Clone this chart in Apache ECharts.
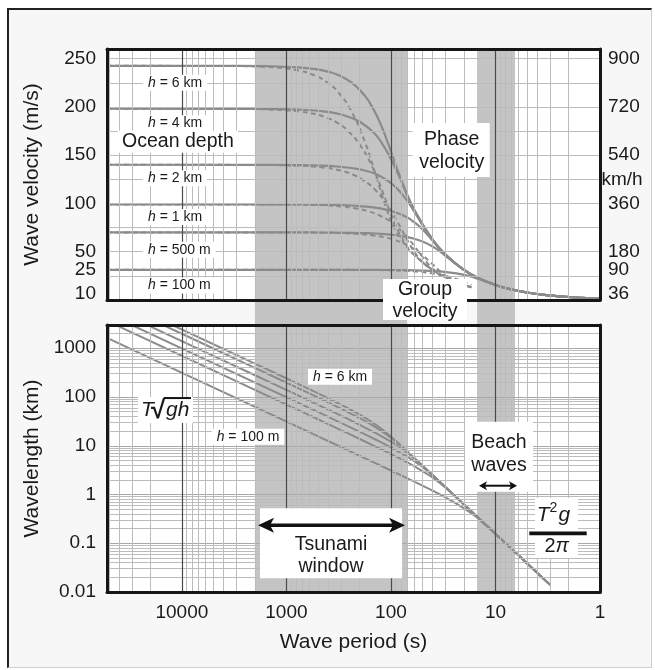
<!DOCTYPE html>
<html><head><meta charset="utf-8">
<script src="https://cdn.jsdelivr.net/npm/echarts@6/dist/echarts.min.js"></script>
<style>
html,body{margin:0;padding:0;background:#fff;}
#frame{position:absolute;left:7px;top:8px;width:645px;height:660px;box-sizing:border-box;background:#f7f7f7;border-left:2px solid #222;border-top:2px solid #222;border-right:1px solid #cfcfcf;border-bottom:1px solid #cfcfcf;}
#chart{position:absolute;left:0;top:0;width:655px;height:670px;}
</style></head><body>
<div id="frame"></div><div id="chart"></div>
<script>
// ---------- DATA ----------
const depthNames = ['6 km', '4 km', '2 km', '1 km', '500 m', '100 m'];

// Phase velocity (m/s) vs wave period (s)
const phase6 = [[52000,242.6],[3109,242.5],[1557,242.2],[782,241.0],[526,239.1],[399,236.5],[323,233.2],[239,225.4],[178,211.7],[147,197.5],[123,180.0],[106,161.6],[89.9,139.7],[73.3,114.4],[60,93.7],[40,62.5],[30,46.8],[20,31.2],[15,23.4],[10,15.6],[7,10.9],[5,7.8],[3,4.7],[2,3.1],[1.5,2.3],[1,1.6]];
const phase4 = [[52000,198.1],[2539,198.0],[1271,197.8],[639,196.8],[429,195.2],[325,193.1],[264,190.4],[195,184.1],[145,172.9],[120,161.3],[101,146.9],[86.6,131.9],[73.4,114.1],[59.8,93.4],[40,62.5],[30,46.8],[20,31.2],[15,23.4],[10,15.6],[7,10.9],[5,7.8],[3,4.7],[2,3.1],[1.5,2.3],[1,1.6]];
const phase2 = [[52000,140.1],[1795,140.0],[899,139.8],[452,139.2],[304,138.0],[230,136.5],[187,134.7],[138,130.2],[103,122.2],[84.8,114.0],[71.1,103.9],[61.2,93.3],[51.9,80.7],[42.3,66.0],[30,46.8],[20,31.2],[15,23.4],[10,15.6],[7,10.9],[5,7.8],[3,4.7],[2,3.1],[1.5,2.3],[1,1.6]];
const phase1 = [[52000,99.05],[1269,99.0],[636,98.9],[319,98.4],[215,97.6],[163,96.5],[132,95.2],[97.5,92.0],[72.7,86.4],[59.9,80.6],[50.3,73.5],[43.3,66.0],[36.7,57.0],[29.9,46.7],[20,31.2],[15,23.4],[10,15.6],[7,10.9],[5,7.8],[3,4.7],[2,3.1],[1.5,2.3],[1,1.6]];
const phase500 = [[52000,70.0],[898,70.0],[449,69.9],[226,69.6],[152,69.0],[115,68.3],[93.3,67.3],[69.0,65.1],[51.4,61.1],[42.4,57.0],[35.6,52.0],[30.6,46.6],[26.0,40.3],[21.1,33.0],[15,23.4],[10,15.6],[7,10.9],[5,7.8],[3,4.7],[2,3.1],[1.5,2.3],[1,1.6]];
const phase100 = [[52000,31.3],[401,31.3],[201,31.3],[101,31.1],[67.9,30.9],[51.5,30.5],[41.7,30.1],[30.8,29.1],[23.0,27.3],[18.95,25.5],[15.9,23.2],[13.7,20.9],[11.6,18.0],[9.46,14.8],[7,10.9],[5,7.8],[3,4.7],[2,3.1],[1.5,2.3],[1,1.6]];

// Group velocity (m/s) vs wave period (s)
const group6 = [[52000,242.6],[3109,242.3],[1557,241.4],[782,237.9],[526,232.2],[399,224.7],[323,215.9],[239,195.6],[178,164.2],[147,137.1],[123,110.4],[106,89.5],[89.9,71.9],[73.3,57.3],[60,46.8],[40,31.2],[30,23.4],[20,15.6],[17,13.3]];
const group4 = [[52000,198.1],[2539,197.8],[1271,197.1],[639,194.2],[429,189.6],[325,183.5],[264,176.2],[195,159.7],[145,134.1],[120,112.0],[101,90.2],[86.6,73.1],[73.4,58.7],[59.8,46.8],[40,31.2],[30,23.4],[20,15.6],[17,13.3]];
const group2 = [[52000,140.1],[1795,139.9],[899,139.4],[452,137.3],[304,134.1],[230,129.7],[187,124.6],[138,112.9],[103,94.8],[84.8,79.2],[71.1,63.8],[61.2,51.7],[51.9,41.5],[42.3,33.1],[30,23.4],[20,15.6],[17,13.3]];
const group1 = [[52000,99.05],[1269,98.9],[636,98.6],[319,97.1],[215,94.8],[163,91.7],[132,88.1],[97.5,79.9],[72.7,67.1],[59.9,56.0],[50.3,45.1],[43.3,36.5],[36.7,29.4],[29.9,23.4],[20,15.6],[17,13.3]];
const group500 = [[52000,70.0],[898,69.95],[449,69.7],[226,68.7],[152,67.0],[115,64.9],[93.3,62.3],[69.0,56.5],[51.4,47.4],[42.4,39.6],[35.6,31.9],[30.6,25.8],[26.0,20.8],[21.1,16.5],[17,13.3]];
const group100 = [[52000,31.3],[401,31.28],[201,31.16],[101,30.71],[67.9,29.97],[51.5,29.01],[41.7,27.87],[30.8,25.25],[23.0,21.2],[18.95,17.7],[17,15.6]];

// Wavelength (km) vs wave period (s)
const wave6 = [[52000,12616],[3109,754],[1557,377],[782,188.5],[526,125.7],[399,94.2],[323,75.4],[239,53.9],[178,37.7],[147,29.0],[123,22.2],[106,17.1],[89.9,12.6],[73.3,8.38],[60,5.62],[40,2.50],[30,1.405],[20,0.625],[15,0.351],[10,0.156],[7,0.0765],[5,0.039],[3,0.014]];
const wave4 = [[52000,10301],[2539,503],[1271,251],[639,125.7],[429,83.8],[325,62.8],[264,50.3],[195,35.9],[145,25.1],[120,19.3],[101,14.8],[86.6,11.4],[73.4,8.38],[59.8,5.58],[40,2.50],[30,1.405],[20,0.625],[15,0.351],[10,0.156],[7,0.0765],[5,0.039],[3,0.014]];
const wave2 = [[52000,7284],[1795,251],[899,125.7],[452,62.8],[304,41.9],[230,31.4],[187,25.1],[138,17.95],[103,12.57],[84.8,9.67],[71.1,7.39],[61.2,5.71],[51.9,4.19],[42.3,2.79],[30,1.405],[20,0.625],[15,0.351],[10,0.156],[7,0.0765],[5,0.039],[3,0.014]];
const wave1 = [[52000,5151],[1269,125.7],[636,62.8],[319,31.4],[215,20.9],[163,15.7],[132,12.6],[97.5,8.98],[72.7,6.28],[59.9,4.83],[50.3,3.70],[43.3,2.86],[36.7,2.09],[29.9,1.40],[20,0.625],[15,0.351],[10,0.156],[7,0.0765],[5,0.039],[3,0.014]];
const wave500 = [[52000,3642],[898,62.8],[449,31.4],[226,15.7],[152,10.47],[115,7.85],[93.3,6.28],[69.0,4.49],[51.4,3.14],[42.4,2.42],[35.6,1.85],[30.6,1.43],[26.0,1.05],[21.1,0.698],[15,0.351],[10,0.156],[7,0.0765],[5,0.039],[3,0.014]];
const wave100 = [[52000,1629],[401,12.57],[201,6.28],[101,3.14],[67.9,2.09],[51.5,1.571],[41.7,1.257],[30.8,0.898],[23.0,0.628],[18.95,0.483],[15.9,0.370],[13.7,0.286],[11.6,0.209],[9.46,0.140],[7,0.0765],[5,0.039],[3,0.014]];

// Tick labels
const velTickValues = [10, 25, 50, 100, 150, 200, 250];
const kmhTickValues = [36, 90, 180, 360, 540, 720, 900];
// Shaded period bands (s)
const tsunamiBand = [2000, 70];
const beachBand = [15, 6.5];

// ---------- CHART ----------
const FONT = '"Liberation Sans", Arial, Helvetica, sans-serif';
const INK = '#1a1a1a';
const CURVE = '#8b8b8b';
const phaseSeries = [phase6, phase4, phase2, phase1, phase500, phase100];
const groupSeries = [group6, group4, group2, group1, group500, group100];
const waveSeries = [wave6, wave4, wave2, wave1, wave500, wave100];

function isPow10(v) { const l = Math.log10(v); return Math.abs(l - Math.round(l)) < 1e-6; }

const periodMajor = [10, 100, 1000, 10000];
const periodMinor = [];
[1, 10, 100, 1000, 10000].forEach(d => { for (let k = 2; k <= 9; k++) { const v = k * d; if (v < 52000) periodMinor.push(v); } });
const velGrid = []; for (let v = 25; v <= 250; v += 25) velGrid.push(v);
const lenMajor = [0.1, 1, 10, 100, 1000];
const lenMinor = [];
[0.01, 0.1, 1, 10, 100, 1000].forEach(d => { for (let k = 2; k <= 9; k++) { const v = +(k * d).toPrecision(3); if (v < 3000) lenMinor.push(v); } });

const minorStyle = { color: '#bcbcbc', width: 1, type: 'solid' };
const majorStyle = { color: '#4a4a4a', width: 1.2, type: 'solid' };
const hMajorStyle = { color: '#a8a8a8', width: 1.2, type: 'solid' };

const axisLine = { show: true, onZero: false, lineStyle: { color: '#161616', width: 3 } };
function periodAxis(grid, pos, labels, show) {
  return {
    type: 'log', logBase: 10, gridIndex: grid, position: pos, inverse: true, min: 1, max: 52000,
    show: show !== false, z: 20,
    axisLine: axisLine, axisTick: { show: false }, splitLine: { show: false },
    minorTick: { show: false }, minorSplitLine: { show: false },
    axisLabel: labels ? { show: true, fontSize: 19, fontFamily: FONT, color: INK, margin: 11,
      formatter: v => isPow10(v) ? String(v) : '' } : { show: false },
    name: labels ? 'Wave period (s)' : '', nameLocation: 'middle', nameGap: 40,
    nameTextStyle: { fontSize: 21, fontFamily: FONT, color: INK }
  };
}
// the two lowest velocity labels sit slightly apart in the original, as printed
const labelRich = {
  u: { fontSize: 19, fontFamily: FONT, color: INK, padding: [0, 0, 12, 0] },
  d: { fontSize: 19, fontFamily: FONT, color: INK, padding: [6, 0, 0, 0] }
};
function velLabel(lowVals) {
  return v => v === lowVals[1] ? '{u|' + v + '}' : (v === lowVals[0] ? '{d|' + v + '}' : String(v));
}

const series = [];
// shaded bands spanning both panels
series.push({
  type: 'line', xAxisIndex: 4, yAxisIndex: 4, data: [[1, 0]], symbol: 'none', lineStyle: { width: 0 },
  silent: true, z: 1,
  markArea: { silent: true, itemStyle: { color: '#c4c4c4' },
    data: [[{ xAxis: tsunamiBand[0] }, { xAxis: tsunamiBand[1] }], [{ xAxis: beachBand[0] }, { xAxis: beachBand[1] }]] }
});
// grid lines top panel
series.push({
  type: 'line', xAxisIndex: 0, yAxisIndex: 0, data: [[1, 0]], symbol: 'none', lineStyle: { width: 0 }, silent: true, z: 2,
  markLine: { silent: true, symbol: ['none', 'none'], label: { show: false }, animation: false,
    data: [].concat(
      velGrid.map(v => ({ yAxis: v, lineStyle: minorStyle })),
      periodMinor.map(v => ({ xAxis: v, lineStyle: minorStyle })),
      periodMajor.map(v => ({ xAxis: v, lineStyle: majorStyle })))
  }
});
// grid lines bottom panel
series.push({
  type: 'line', xAxisIndex: 2, yAxisIndex: 2, data: [[1, 1]], symbol: 'none', lineStyle: { width: 0 }, silent: true, z: 2,
  markLine: { silent: true, symbol: ['none', 'none'], label: { show: false }, animation: false,
    data: [].concat(
      lenMinor.map(v => ({ yAxis: v, lineStyle: minorStyle })),
      lenMajor.map(v => ({ yAxis: v, lineStyle: hMajorStyle })),
      periodMinor.map(v => ({ xAxis: v, lineStyle: minorStyle })),
      periodMajor.map(v => ({ xAxis: v, lineStyle: majorStyle })))
  }
});
depthNames.forEach((n, i) => {
  series.push({ name: 'Phase ' + n, type: 'line', xAxisIndex: 0, yAxisIndex: 0, data: phaseSeries[i], smooth: 0.5,
    symbol: 'none', silent: true, z: 3, lineStyle: { color: CURVE, width: 2.2 } });
  series.push({ name: 'Group ' + n, type: 'line', xAxisIndex: 0, yAxisIndex: 0, data: groupSeries[i], smooth: 0.5,
    symbol: 'none', silent: true, z: 3, lineStyle: { color: CURVE, width: 2, type: [5, 3.5] } });
  series.push({ name: 'Wavelength ' + n, type: 'line', xAxisIndex: 2, yAxisIndex: 2, data: waveSeries[i], smooth: 0.4,
    symbol: 'none', silent: true, z: 3, lineStyle: { color: CURVE, width: 2 } });
});

const option = {
  animation: false,
  backgroundColor: 'transparent',
  textStyle: { fontFamily: FONT },
  grid: [
    { left: 107, top: 49, width: 493, height: 251, show: true, backgroundColor: '#fff', borderWidth: 0 },
    { left: 107, top: 325, width: 493, height: 267, show: true, backgroundColor: '#fff', borderWidth: 0 },
    { left: 107, top: 49, width: 493, height: 543, show: false }
  ],
  xAxis: [
    periodAxis(0, 'bottom', false),
    periodAxis(0, 'top', false),
    periodAxis(1, 'bottom', true),
    periodAxis(1, 'top', false),
    periodAxis(2, 'bottom', false, false)
  ],
  yAxis: [
    { type: 'value', gridIndex: 0, position: 'left', min: 0, max: 260, z: 20, axisLine: axisLine,
      axisTick: { show: false }, splitLine: { show: false },
      axisLabel: { customValues: velTickValues, hideOverlap: false, fontSize: 19, fontFamily: FONT, color: INK, margin: 11,
        formatter: velLabel(velTickValues), rich: labelRich },
      name: 'Wave velocity (m/s)', nameLocation: 'middle', nameGap: 64,
      nameTextStyle: { fontSize: 21, fontFamily: FONT, color: INK } },
    { type: 'value', gridIndex: 0, position: 'right', min: 0, max: 936, z: 20, axisLine: axisLine,
      axisTick: { show: false }, splitLine: { show: false },
      axisLabel: { customValues: kmhTickValues, hideOverlap: false, fontSize: 19, fontFamily: FONT, color: INK, margin: 8,
        formatter: velLabel(kmhTickValues), rich: labelRich } },
    { type: 'log', logBase: 10, gridIndex: 1, position: 'left', min: 0.01, max: 3000, z: 20, axisLine: axisLine,
      axisTick: { show: false }, splitLine: { show: false }, minorTick: { show: false }, minorSplitLine: { show: false },
      axisLabel: { fontSize: 19, fontFamily: FONT, color: INK, margin: 11,
        formatter: v => (isPow10(v) && v <= 1000) ? String(v) : '' },
      name: 'Wavelength (km)', nameLocation: 'middle', nameGap: 64,
      nameTextStyle: { fontSize: 21, fontFamily: FONT, color: INK } },
    { type: 'log', logBase: 10, gridIndex: 1, position: 'right', min: 0.01, max: 3000, z: 20, axisLine: axisLine,
      axisTick: { show: false }, splitLine: { show: false }, axisLabel: { show: false } },
    { type: 'value', gridIndex: 2, min: 0, max: 1, show: false }
  ],
  series: series
};

const chart = echarts.init(document.getElementById('chart'), null, { renderer: 'canvas' });
chart.setOption(option);

// ---------- ANNOTATIONS (anchored to data coordinates) ----------
const pTop = (t, v) => chart.convertToPixel({ xAxisIndex: 0, yAxisIndex: 0 }, [t, v]);
const pBot = (t, v) => chart.convertToPixel({ xAxisIndex: 2, yAxisIndex: 2 }, [t, v]);

function Tx(x, y, text, size, extra) {
  return { type: 'text', x: x, y: y, z: 100,
    style: Object.assign({ text: text, fontSize: size, fontFamily: FONT, fill: INK, align: 'center', verticalAlign: 'middle' }, extra || {}) };
}
function Rc(x, y, w, h, fill) {
  return { type: 'rect', z: 99, shape: { x: x, y: y, width: w, height: h }, style: { fill: fill || '#fff' } };
}
function Grp(p, children) { return { type: 'group', x: p[0], y: p[1], z: 100, children: children }; }
function arrow(x1, x2, y, lw, hl, hw, notch) {
  return [
    { type: 'line', z: 101, shape: { x1: x1 + hl * 0.6, y1: y, x2: x2 - hl * 0.6, y2: y }, style: { stroke: '#111', lineWidth: lw } },
    { type: 'polygon', z: 101, shape: { points: [[x1, y], [x1 + hl, y - hw / 2], [x1 + hl * notch, y], [x1 + hl, y + hw / 2]] }, style: { fill: '#111' } },
    { type: 'polygon', z: 101, shape: { points: [[x2, y], [x2 - hl, y - hw / 2], [x2 - hl * notch, y], [x2 - hl, y + hw / 2]] }, style: { fill: '#111' } }
  ];
}
const hRich = { i: { fontStyle: 'italic', fontSize: 14, fontFamily: FONT, fill: INK } };
function hLabel(p, name, align) {
  return Tx(p[0], p[1], '{i|h} = ' + name, 14, { align: align, backgroundColor: '#fff', padding: [1, 5], rich: hRich });
}

const topLabelVel = [225, 183, 126, 86, 52, 15];
const g = [];
depthNames.forEach((n, i) => g.push(hLabel(pTop(23500, topLabelVel[i]), n, 'left')));
g.push(Grp(pTop(10900, 164), [Rc(-60, -11, 120, 22), Tx(0, 0, 'Ocean depth', 19.5)]));
g.push(Grp(pTop(26.2, 155.4), [Rc(-39, -27, 77, 54), Tx(0, -10, 'Phase', 19.5), Tx(0, 13, 'velocity', 19.5)]));
g.push(Grp(pTop(47.2, -1), [Rc(-42, -22, 84, 41), Tx(0, -11, 'Group', 19.5), Tx(0, 11, 'velocity', 19.5)]));
const kmh = pTop(0.616, 124.3);
g.push(Tx(kmh[0], kmh[1], 'km/h', 19));

g.push(hLabel(pBot(307, 261), depthNames[0], 'center'));
g.push(hLabel(pBot(2330, 15.3), depthNames[5], 'center'));
g.push(Grp(pBot(14500, 54), [
  Rc(-27, -13, 55, 26),
  Tx(-24, 0, 'T', 21, { align: 'left', fontStyle: 'italic' }),
  Tx(-14, 1, '\u221A', 26, { align: 'left', fontWeight: 'bold' }),
  Tx(1, 0, 'gh', 21, { align: 'left', fontStyle: 'italic' }),
  { type: 'line', z: 101, shape: { x1: -1, y1: -12, x2: 26, y2: -12 }, style: { stroke: '#111', lineWidth: 2 } }
]));
g.push(Grp(pBot(374, 0.1), [Rc(-71, -35, 142, 70)].concat(arrow(-73, 74, -18, 3.5, 16, 15, 0.75),
  [Tx(0, 1, 'Tsunami', 19.5), Tx(0, 23.7, 'window', 19.5)])));
g.push(Grp(pBot(9.25, 5.96), [Rc(-34, -35, 68, 70), Tx(0, -13.7, 'Beach', 19.5), Tx(0, 9, 'waves', 19.5)]
  .concat(arrow(-20, 18, 29, 2, 8, 9, 0.75))));
g.push(Grp(pBot(2.636, 0.187), [
  Rc(-21, -32, 43, 60),
  Tx(-19.3, -15, 'T', 21, { align: 'left', fontStyle: 'italic' }),
  Tx(-6.5, -22, '2', 14, { align: 'left' }),
  Tx(2.5, -15, 'g', 21, { align: 'left', fontStyle: 'italic' }),
  { type: 'rect', z: 101, shape: { x: -26.7, y: 1.6, width: 57.4, height: 3.6 }, style: { fill: '#111' } },
  Tx(0.7, 16.7, '2{i|\u03C0}', 20, { rich: { i: { fontStyle: 'italic', fontSize: 20, fontFamily: FONT, fill: INK } } })
]));

chart.setOption({ graphic: { elements: g } });
</script></body></html>
